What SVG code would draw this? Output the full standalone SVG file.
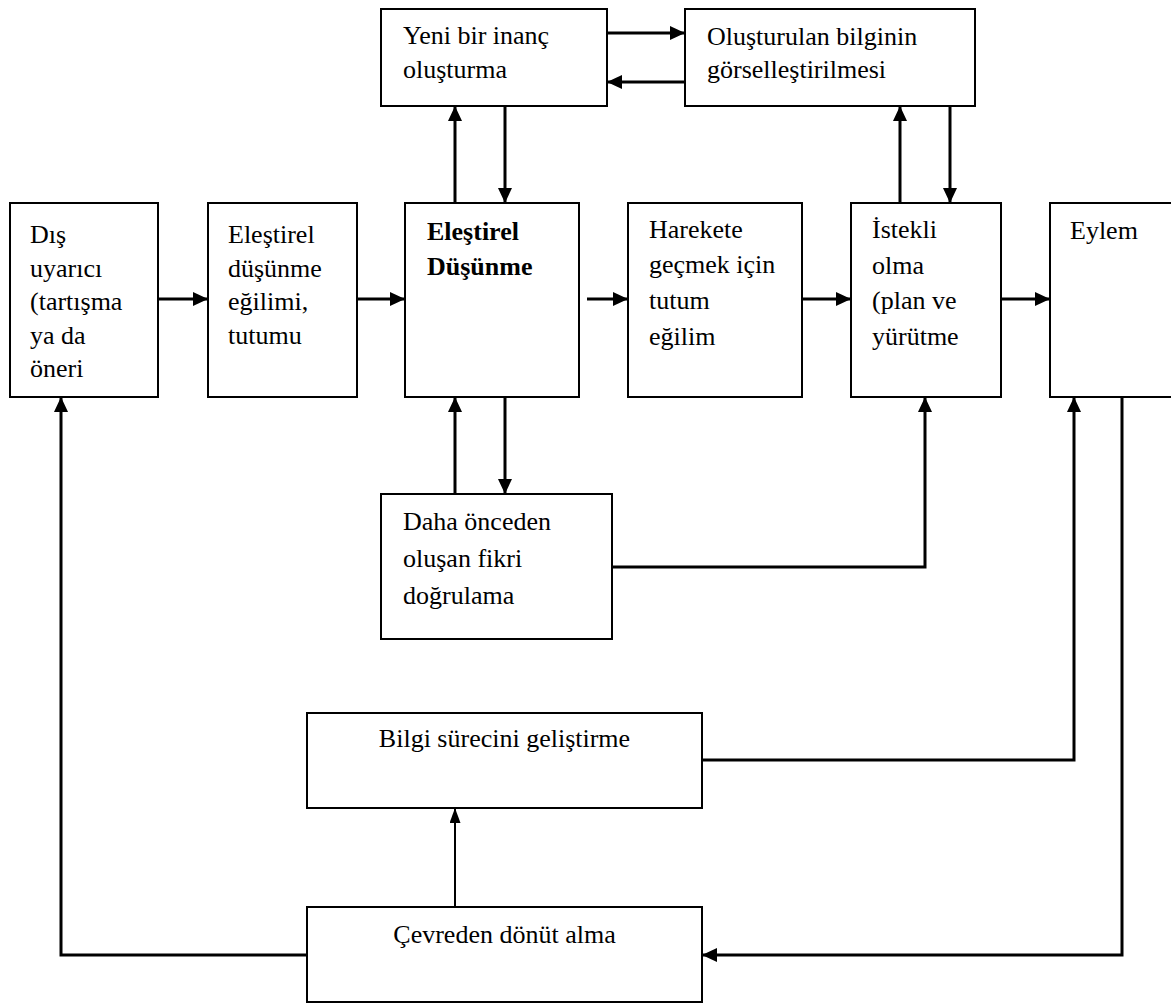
<svg xmlns="http://www.w3.org/2000/svg" width="1171" height="1003" viewBox="0 0 1171 1003">
<style>
.box{fill:#fff;stroke:#000;stroke-width:2}
.t{font-family:"Liberation Serif","Times New Roman",serif;font-size:26px;fill:#000}
.b{font-weight:bold}
.c{text-anchor:middle}
.ln{fill:none;stroke:#000;stroke-width:3}
.ln2{fill:none;stroke:#000;stroke-width:2}
</style>
<defs>
<marker id="ah" viewBox="0 0 15 14" markerWidth="15" markerHeight="14" refX="15" refY="7" orient="auto" markerUnits="userSpaceOnUse">
<path d="M0,0 L15,7 L0,14 z" fill="#000"/>
</marker>
<marker id="ahs" viewBox="0 0 15 11" markerWidth="15" markerHeight="11" refX="15" refY="5.5" orient="auto" markerUnits="userSpaceOnUse">
<path d="M0,0 L15,5.5 L0,11 z" fill="#000"/>
</marker>
</defs>
<rect width="1171" height="1003" fill="#fff"/>
<g id="connectors">
<line class="ln" x1="607" y1="33" x2="685" y2="33" marker-end="url(#ah)"/>
<line class="ln" x1="685" y1="82" x2="607" y2="82" marker-end="url(#ah)"/>
<line class="ln" x1="455" y1="203" x2="455" y2="106" marker-end="url(#ah)"/>
<line class="ln" x1="505" y1="106" x2="505" y2="203" marker-end="url(#ah)"/>
<line class="ln" x1="900" y1="203" x2="900" y2="106" marker-end="url(#ah)"/>
<line class="ln" x1="950" y1="106" x2="950" y2="203" marker-end="url(#ah)"/>
<line class="ln" x1="158" y1="299" x2="208" y2="299" marker-end="url(#ah)"/>
<line class="ln" x1="357" y1="299" x2="405" y2="299" marker-end="url(#ah)"/>
<line class="ln" x1="587" y1="299" x2="628" y2="299" marker-end="url(#ah)"/>
<line class="ln" x1="802" y1="299" x2="851" y2="299" marker-end="url(#ah)"/>
<line class="ln" x1="1001" y1="299" x2="1050" y2="299" marker-end="url(#ah)"/>
<line class="ln" x1="455" y1="494" x2="455" y2="397" marker-end="url(#ah)"/>
<line class="ln" x1="505" y1="397" x2="505" y2="494" marker-end="url(#ah)"/>
<polyline class="ln" points="612,567 925,567 925,397" marker-end="url(#ah)"/>
<polyline class="ln" points="702,760 1074,760 1074,397" marker-end="url(#ah)"/>
<polyline class="ln" points="1122,397 1122,955 702,955" marker-end="url(#ah)"/>
<polyline class="ln" points="307,955 61,955 61,397" marker-end="url(#ah)"/>
<line class="ln2" x1="455" y1="907" x2="455" y2="808" marker-end="url(#ahs)"/>
</g>
<g id="yeni">
<rect class="box" x="381" y="9" width="226" height="97"/>
<text class="t" x="403" y="44">Yeni bir inanç</text>
<text class="t" x="403" y="78">oluşturma</text>
</g>
<g id="olusturulan">
<rect class="box" x="685" y="9" width="290" height="97"/>
<text class="t" x="707" y="45">Oluşturulan bilginin</text>
<text class="t" x="707" y="78">görselleştirilmesi</text>
</g>
<g id="dis">
<rect class="box" x="10" y="203" width="148" height="194"/>
<text class="t" x="30" y="243">Dış</text>
<text class="t" x="30" y="276.5">uyarıcı</text>
<text class="t" x="30" y="310">(tartışma</text>
<text class="t" x="30" y="343.5">ya da</text>
<text class="t" x="30" y="377">öneri</text>
</g>
<g id="egilim">
<rect class="box" x="208" y="203" width="149" height="194"/>
<text class="t" x="228" y="243">Eleştirel</text>
<text class="t" x="228" y="276.5">düşünme</text>
<text class="t" x="228" y="310">eğilimi,</text>
<text class="t" x="228" y="343.5">tutumu</text>
</g>
<g id="elestirel">
<rect class="box" x="405" y="203" width="174" height="194"/>
<text class="t b" x="427" y="240">Eleştirel</text>
<text class="t b" x="427" y="275">Düşünme</text>
</g>
<g id="harekete">
<rect class="box" x="628" y="203" width="174" height="194"/>
<text class="t" x="649" y="238">Harekete</text>
<text class="t" x="649" y="273">geçmek için</text>
<text class="t" x="649" y="309">tutum</text>
<text class="t" x="649" y="345">eğilim</text>
</g>
<g id="istekli">
<rect class="box" x="851" y="203" width="150" height="194"/>
<text class="t" x="872" y="238">İstekli</text>
<text class="t" x="872" y="274">olma</text>
<text class="t" x="872" y="309">(plan ve</text>
<text class="t" x="872" y="345">yürütme</text>
</g>
<g id="eylem">
<rect class="box" x="1050" y="203" width="160" height="194"/>
<text class="t" x="1070" y="239">Eylem</text>
</g>
<g id="daha">
<rect class="box" x="381" y="494" width="231" height="145"/>
<text class="t" x="403" y="530">Daha önceden</text>
<text class="t" x="403" y="567">oluşan fikri</text>
<text class="t" x="403" y="604">doğrulama</text>
</g>
<g id="bilgi">
<rect class="box" x="307" y="713" width="395" height="95"/>
<text class="t c" x="504.5" y="747">Bilgi sürecini geliştirme</text>
</g>
<g id="cevreden">
<rect class="box" x="307" y="907" width="395" height="95"/>
<text class="t c" x="504.5" y="943">Çevreden dönüt alma</text>
</g>
</svg>
